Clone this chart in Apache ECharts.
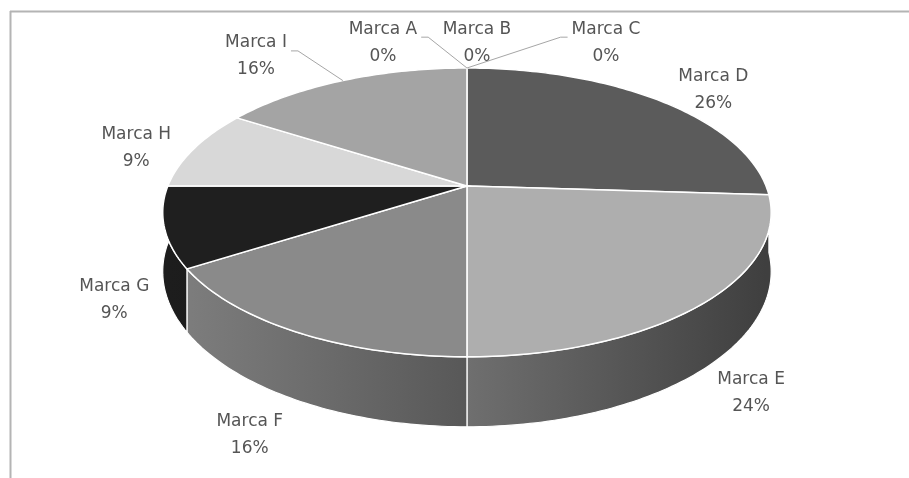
<!DOCTYPE html>
<html><head><meta charset="utf-8">
<script src="https://cdn.jsdelivr.net/npm/echarts@6/dist/echarts.min.js"></script>
<style>html,body{margin:0;padding:0;background:#fff}#c{width:909px;height:478px}</style>
</head><body><div id="c"></div>
<script>
// ---- data ----
const categories = ['Marca A','Marca B','Marca C','Marca D','Marca E','Marca F','Marca G','Marca H','Marca I'];
const values = [0, 0, 0, 26, 24, 16, 9, 9, 16];

// ---- styling / layout ----
const sliceColors = ['#7f7f7f','#b3b3b3','#4d4d4d','#5b5b5b','#aeaeae','#8a8a8a','#1f1f1f','#d8d8d8','#a4a4a4'];
// label nudges (px) applied to the computed label anchor, like label.offset
const labelNudge = [[-84,-6],[10,-6],[139,-6],[19,3.5],[-8.5,-6],[-3,-3],[14.5,3],[-6,6.5],[-66,-6.5]];
const FONT_SIZE = 17, FONT_FAMILY = 'DejaVu Sans', LINE_H = 27;
const FONT = FONT_SIZE + 'px "' + FONT_FAMILY + '"';

const total = values.reduce((s, v) => s + v, 0);
const starts = [];
values.reduce((acc, v, i) => { starts[i] = acc; return acc + v; }, 0);

const measureCtx = document.createElement('canvas').getContext('2d');
measureCtx.font = FONT;

function hexToRgb(h) { h = h.replace('#',''); return [0,2,4].map(i => parseInt(h.substr(i,2),16)); }
function shade(hex, f) { const c = hexToRgb(hex).map(x => Math.max(0, Math.min(255, Math.round(x*f)))); return 'rgb(' + c.join(',') + ')'; }

const chart = echarts.init(document.getElementById('c'), null, {renderer: 'canvas'});

function geom(api) {
  const W = api.getWidth(), H = api.getHeight();
  return { cx: W*0.5137, cy: H*0.389, a: W*0.329, b: H*0.292, k: 0.1834, depth: H*0.1195 };
}
function proj(g, theta, r, hFrac) {
  const X = r*Math.sin(theta), Z = r*Math.cos(theta);
  const s = 1/(1 + g.k*Z);
  return [g.cx + g.a*X*s, g.cy - g.b*Z*s + hFrac*g.depth*s];
}

function renderItem(params, api) {
  const i = params.dataIndex;
  const v = api.value(0);
  const g = geom(api);
  const t1 = starts[i]/total*2*Math.PI, t2 = (starts[i]+v)/total*2*Math.PI;
  const children = [];
  if (v > 0) {
    const n = Math.max(2, Math.ceil((t2-t1)/(Math.PI/180)));
    const top = [], bot = [];
    for (let j = 0; j <= n; j++) {
      const t = t1 + (t2-t1)*j/n;
      top.push(proj(g, t, 1, 0));
      bot.push(proj(g, t, 1, 1));
    }
    const base = sliceColors[i];
    const ratio = t => 0.92 - 0.56*t;
    const stops = [0,0.25,0.5,0.75,1].map(t => ({offset: t, color: shade(base, ratio(t))}));
    const grad = new echarts.graphic.LinearGradient(g.cx - g.a, 0, g.cx + g.a, 0, stops, true);
    children.push({ type: 'polygon', z2: 1, shape: { points: top.concat(bot.slice().reverse()) },
      style: { fill: grad, stroke: '#ffffff', lineWidth: 1.2 } });
    children.push({ type: 'polygon', z2: 5, shape: { points: [[g.cx, g.cy]].concat(top) },
      style: { fill: base, stroke: '#ffffff', lineWidth: 1.5 } });
  }
  // label
  const mid = (t1 + t2)/2;
  const front = Math.cos(mid) < 0;
  const anchor = proj(g, mid, 1.2, front ? 1 : 0);
  const lx = anchor[0] + labelNudge[i][0], ly = anchor[1] + labelNudge[i][1];
  const pct = Math.round(v/total*100) + '%';
  const name = categories[i];
  children.push({ type: 'text', z2: 10, style: {
    text: name + '\n' + pct, x: lx, y: ly, align: 'center', verticalAlign: 'middle',
    font: FONT, fill: '#555555', lineHeight: LINE_H } });
  // leader line when the label sits away from its slice rim
  const rim = proj(g, mid, 1, front ? 1 : 0);
  const w = Math.max(measureCtx.measureText(name).width, measureCtx.measureText(pct).width);
  const bx0 = lx - w/2, bx1 = lx + w/2, by0 = ly - LINE_H, by1 = ly + LINE_H;
  const dx = Math.max(bx0 - rim[0], 0, rim[0] - bx1), dy = Math.max(by0 - rim[1], 0, rim[1] - by1);
  if (Math.hypot(dx, dy) > 30) {
    const yL = ly - LINE_H/2 + 8;
    let pts;
    if (rim[0] > bx1) pts = [[bx1 + 4, yL], [bx1 + 11, yL], rim];
    else pts = [[bx0 - 4, yL], [bx0 - 11, yL], rim];
    children.push({ type: 'polyline', z2: 8, shape: { points: pts },
      style: { stroke: '#a6a6a6', lineWidth: 1, fill: null } });
  }
  return { type: 'group', children };
}

chart.setOption({
  backgroundColor: '#ffffff',
  animation: false,
  graphic: [
    { type: 'line', shape: { x1: 10, y1: 11.5, x2: 909, y2: 11.5 }, style: { stroke: '#b4b4b4', lineWidth: 2 } },
    { type: 'line', shape: { x1: 10.5, y1: 11, x2: 10.5, y2: 478 }, style: { stroke: '#b4b4b4', lineWidth: 2 } }
  ],
  series: [{
    type: 'custom',
    coordinateSystem: 'none',
    silent: true,
    renderItem: renderItem,
    data: values.map((v, i) => ({ name: categories[i], value: [v] }))
  }]
});
</script></body></html>
